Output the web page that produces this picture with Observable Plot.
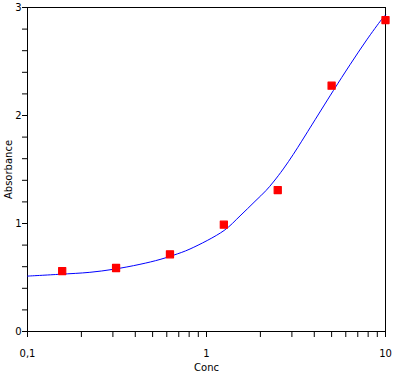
<!DOCTYPE html>
<html><head><meta charset="utf-8">
<script src="https://cdn.jsdelivr.net/npm/d3@7"></script>
<script src="https://cdn.jsdelivr.net/npm/@observablehq/plot@0.6"></script>
<style>body{margin:0;background:#fff} svg{display:block}</style>
</head><body><div id="chart"></div>
<script>
const conc = [0.15625, 0.3125, 0.625, 1.25, 2.5, 5, 10];
const absorbance = [0.56, 0.588, 0.715, 0.989, 1.31, 2.276, 2.884];
const fitConc = [0.1, 0.152, 0.223, 0.302, 0.425, 0.55, 0.653, 0.809, 1.253, 1.539, 1.866, 2.15, 2.362, 2.686, 3.054, 3.402, 3.786, 5.11, 6.335, 7.853, 9.524, 10];
const fitAbs  = [0.513, 0.53, 0.548, 0.576, 0.622, 0.667, 0.706, 0.764, 0.935, 1.07, 1.205, 1.305, 1.384, 1.505, 1.64, 1.762, 1.885, 2.23, 2.47, 2.70, 2.89, 2.93];
const xTicks = [0.1, 1, 10];
const xTickLabels = ["0,1", "1", "10"];
const xMinorTicks = [0.2, 0.3, 0.4, 0.5, 0.6, 0.7, 0.8, 0.9, 2, 3, 4, 5, 6, 7, 8, 9];
const yTicks = [0, 1, 2, 3];
const yTickLabels = ["0", "1", "2", "3"];
const yMinorTicks = [0.2, 0.4, 0.6, 0.8, 1.2, 1.4, 1.6, 1.8, 2.2, 2.4, 2.6, 2.8];
const xLabel = "Conc";
const yLabel = "Absorbance";

const points = conc.map((c, i) => ({conc: c, abs: absorbance[i]}));
const fit = fitConc.map((c, i) => ({conc: c, abs: fitAbs[i]}));

const chart = Plot.plot({
  width: 396, height: 375,
  marginLeft: 27, marginRight: 11, marginTop: 7, marginBottom: 44,
  style: {fontFamily: "DejaVu Sans", fontSize: "10px", color: "black", background: "white"},
  x: {type: "log", domain: [0.1, 10]},
  y: {domain: [0, 3]},
  marks: [
    Plot.axisX({ticks: xMinorTicks, tickSize: 6, tickFormat: () => "", label: null}),
    Plot.axisX({ticks: xTicks, tickSize: 6, tickPadding: 12, tickFormat: (d) => xTickLabels[xTicks.indexOf(d)], label: null}),
    Plot.axisY({ticks: yMinorTicks, tickSize: 5, tickFormat: () => "", label: null}),
    Plot.axisY({ticks: yTicks, tickSize: 5, tickPadding: 1, tickFormat: (d) => yTickLabels[yTicks.indexOf(d)], label: null}),
    Plot.frame({stroke: "black"}),
    Plot.line(fit, {x: "conc", y: "abs", stroke: "#0000ff", strokeWidth: 1, curve: "catmull-rom"}),
    Plot.dot(points, {x: "conc", y: "abs", symbol: "square", r: 4, fill: "#ff0000", stroke: "#ff0000", strokeLinejoin: "round", strokeWidth: 1.2}),
    Plot.text([xLabel], {frameAnchor: "bottom", dy: 36, textAnchor: "middle", lineAnchor: "middle", fill: "black"}),
    Plot.text([yLabel], {frameAnchor: "left", dx: -19, rotate: -90, textAnchor: "middle", lineAnchor: "middle", fill: "black"})
  ]
});
document.getElementById("chart").append(chart);
</script>
</body></html>
